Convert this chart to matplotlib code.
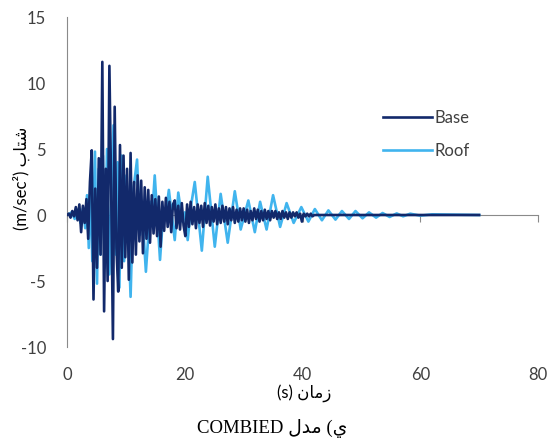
import numpy as np
import matplotlib

matplotlib.use("Agg")
import matplotlib.pyplot as plt

# ------------------------------------------------------------------
# data (acceleration, m/s^2)
# ------------------------------------------------------------------
# Base: sampled every 0.3 s from 0 to 42 s, then flat
base_t = list(np.round(np.arange(0, 42.01, 0.3), 1)) + [56.0, 70.0]
base_v = [
    0.0, 0.1, -0.2, 0.3, -0.1, 0.6, -0.4, 0.8, -1.3, 0.7,
    -0.6, 1.2, -1.8, 2.5, 4.9, -6.4, 2.0, -4.0, 4.3, -3.0,
    11.6, -7.3, 3.5, -5.0, 11.3, 2.0, -9.4, 8.2, -2.5, -5.8,
    5.3, -4.0, 4.5, -3.2, 3.5, -4.9, 4.7, -3.6, 2.5, -3.0,
    3.0, -2.0, 2.6, -2.9, 2.1, -1.8, 1.9, -2.1, 1.5, -1.4,
    1.2, -1.6, 1.4, -2.4, 1.0, -1.2, 1.3, -0.9, 1.0, -1.3,
    0.8, 1.1, -1.0, 0.7, -1.1, 0.9, -0.8, -1.6, 0.8, -0.9,
    1.0, -0.7, 0.6, -1.0, 0.8, -0.6, 0.7, -0.9, 0.9, -0.6,
    0.7, -0.8, 0.6, -0.5, 0.8, -0.7, 0.5, -0.6, 0.7, -0.5,
    0.6, -0.7, 0.5, -0.4, 0.6, -0.6, 0.4, -0.5, 0.5, -0.4,
    0.5, -0.5, 0.4, -0.6, 0.3, -0.4, 0.5, -0.3, 0.4, -0.5,
    0.3, -0.4, 0.4, -0.3, 0.3, -0.4, 0.3, -0.2, 0.3, -0.3,
    0.2, -0.3, 0.3, -0.2, 0.2, -0.3, 0.2, -0.2, 0.2, -0.1,
    0.2, -0.2, 0.1, -0.5, 0.1, -0.1, 0.1, -0.1, 0.1, -0.1,
    0.0, 0.0, 0.0,
]

# Roof: turning points
roof_t = [
    0.0, 0.8, 1.3, 1.8, 2.3, 2.7, 3.1, 3.4, 3.7, 4.0,
    4.3, 4.75, 5.1, 5.4, 5.7, 6.1, 6.4, 6.8, 7.2, 7.9,
    8.3, 8.6, 8.9, 9.3, 9.7, 10.1, 10.8, 11.3, 11.9, 12.4,
    12.7, 13.4, 14.2, 14.5, 14.9, 15.8, 16.4, 16.7, 17.3, 18.3,
    18.9, 19.6, 20.0, 20.5, 21.1, 21.7, 22.9, 23.9, 25.1, 26.1,
    27.3, 28.5, 29.5, 30.8, 31.9, 32.8, 33.9, 35.0, 36.2, 37.3,
    38.5, 39.8, 41.0, 42.1, 43.3, 44.4, 45.6, 46.7, 47.9, 49.0,
    50.2, 51.3, 52.5, 53.6, 54.8, 56.0, 57.1, 58.3, 60.0, 62.0,
    70.0,
]
roof_v = [
    0.0, 0.2, -0.3, 0.4, -0.6, 0.5, -1.0, 1.5, -2.5, 3.0,
    -3.5, 4.8, -5.2, 3.5, -3.0, 4.5, -4.0, 5.0, -4.5, 6.8,
    -3.0, 4.0, -5.5, 4.5, -3.5, 3.0, -6.2, 2.0, 4.2, -1.5,
    0.8, -4.3, 1.0, 0.2, 3.0, -3.4, 0.5, -0.2, 1.9, -1.9,
    1.7, -0.5, 0.2, -1.9, 0.8, 2.5, -2.7, 2.9, -2.4, 1.6,
    -2.1, 1.8, -1.1, 1.1, -1.3, 1.0, -1.1, 1.5, -0.9, 0.9,
    -0.6, 0.6, -0.5, 0.45, -0.4, 0.35, -0.35, 0.3, -0.3, 0.3,
    -0.25, 0.2, -0.2, 0.15, -0.15, 0.12, -0.1, 0.1, -0.05, 0.05,
    0.0,
]

x_ticks = [0, 20, 40, 60, 80]
y_ticks = [-10, -5, 0, 5, 10, 15]

BASE_C = "#12296b"
ROOF_C = "#40b4ee"
AXIS_C = "#8a8a8a"
TXT_C = "#404040"

# Arabic strings written in visual (shaped, left-to-right) order
XLABEL = "(s) \ufee5\ufe8e\ufee3\ufeaf"              # زمان (s)
YLABEL = "(m/sec\u00b2) \ufe8f\ufe8e\ufe98\ufeb7"     # شتاب (m/sec2)
TITLE = "COMBIED \ufedd\ufeaa\ufee3 (\ufef1"          # ي) مدل COMBIED

SANS = ["Lato", "DejaVu Sans"]
SERIF = ["Liberation Serif", "DejaVu Sans"]

fig = plt.figure(figsize=(5.52, 4.45), dpi=100)
ax = fig.add_axes([67 / 552, 1 - 347 / 445, 471 / 552, 330 / 445])

roof_line, = ax.plot(roof_t, roof_v, color=ROOF_C, lw=1.9, label="Roof", zorder=2)
base_line, = ax.plot(base_t, base_v, color=BASE_C, lw=1.9, label="Base", zorder=3)

ax.set_xlim(0, 80)
ax.set_ylim(-10, 15)

# spines: left axis, x axis crossing at y=0
for s in ["top", "right"]:
    ax.spines[s].set_visible(False)
ax.spines["left"].set_color(AXIS_C)
ax.spines["bottom"].set_color(AXIS_C)
ax.spines["bottom"].set_position(("data", 0))
ax.spines["bottom"].set_zorder(1)

ax.set_yticks(y_ticks)
ax.set_yticklabels([str(v) for v in y_ticks], family=SANS, fontsize=12, color=TXT_C)
ax.tick_params(axis="y", length=0, pad=15)

# x tick marks on the zero line, labels at the bottom (Excel "low" position)
ax.set_xticks(x_ticks)
ax.set_xticklabels([])
ax.tick_params(axis="x", direction="out", length=5, color=AXIS_C)
for xv in x_ticks:
    ax.text(xv, -0.085, str(xv), transform=ax.get_xaxis_transform(),
            ha="center", va="center", family=SANS, fontsize=12, color=TXT_C)

fig.text(304 / 552, 1 - 393 / 445, XLABEL, ha="center", va="center",
         family=SANS, fontsize=12, color="#000000")
fig.text(21 / 552, 1 - 178 / 445, YLABEL, ha="center", va="center", rotation=90,
         family=SANS, fontsize=12, color="#000000")
fig.text(272 / 552, 1 - 428 / 445, TITLE, ha="center", va="center",
         family=SERIF, fontsize=13.5, color="#000000")

leg = ax.legend([base_line, roof_line], ["Base", "Roof"], loc="upper left",
                bbox_to_anchor=(0.64, 0.763), frameon=False, handlelength=2.9,
                handletextpad=0.15, labelspacing=1.0, prop={"family": SANS, "size": 12})
for t in leg.get_texts():
    t.set_color(TXT_C)

fig.savefig("out.png", dpi=100)
